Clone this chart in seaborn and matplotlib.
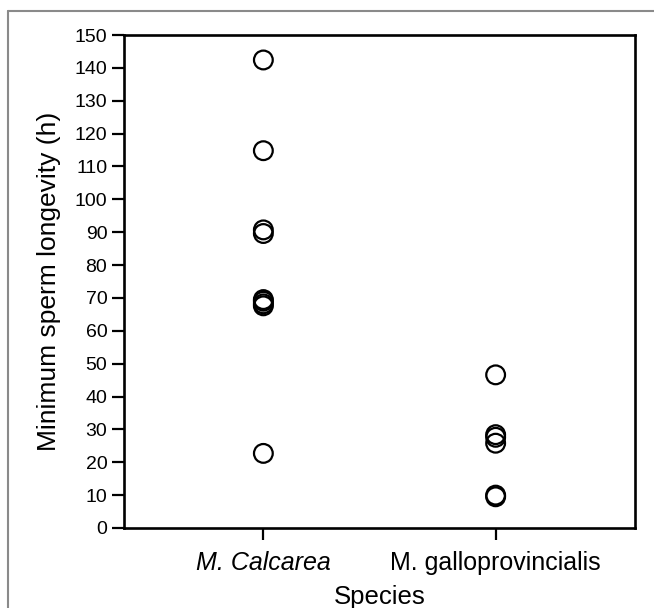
import matplotlib
matplotlib.use("Agg")
import matplotlib.pyplot as plt
from matplotlib.lines import Line2D
import seaborn as sns
import pandas as pd

species = ["M. Calcarea", "M. galloprovincialis"]
calcarea = [142.4, 114.8, 90.7, 89.6, 69.5, 69.0, 68.2, 67.6, 22.7]
gallo = [46.6, 28.4, 27.6, 25.8, 10.0, 9.5]
y_ticks = list(range(0, 151, 10))

df = pd.DataFrame({
    "Species": [species[0]] * len(calcarea) + [species[1]] * len(gallo),
    "Longevity": calcarea + gallo,
})

sns.set_theme(style="ticks")
plt.rcParams["font.family"] = ["Liberation Sans", "DejaVu Sans"]
plt.rcParams["text.color"] = "black"
plt.rcParams["axes.labelcolor"] = "black"
plt.rcParams["xtick.color"] = "black"
plt.rcParams["ytick.color"] = "black"

fig = plt.figure(figsize=(6.54, 6.08), dpi=100)
ax = fig.add_axes([124 / 654, 1 - 528 / 608, (635 - 124) / 654, (528 - 35) / 608])

sns.stripplot(data=df, x="Species", y="Longevity", order=species, jitter=False,
              color="black", edgecolor="black", linewidth=1.6, size=13.5,
              marker="o", ax=ax)
for coll in ax.collections:
    coll.set_facecolor("none")
    coll.set_edgecolor("black")

ax.set_xlim(-0.6, 1.6)
ax.set_ylim(0, 150)
ax.set_yticks(y_ticks)
ax.set_yticklabels([str(t) for t in y_ticks], fontsize=14)
for sp in ax.spines.values():
    sp.set_visible(True)
    sp.set_linewidth(1.9)
    sp.set_color("black")
ax.tick_params(axis="y", direction="out", length=8.5, width=1.6, pad=3.5,
               colors="black", labelcolor="black")
ax.tick_params(axis="x", direction="out", length=8.5, width=1.6, pad=8,
               colors="black", labelcolor="black", labelsize=18)
labels = ax.get_xticklabels()
labels[0].set_fontstyle("italic")
ax.set_xlabel("Species", fontsize=18.5, labelpad=7, color="black")
ax.set_ylabel("Minimum sperm longevity (h)", fontsize=19, labelpad=10, color="black")

# outer frame (partial, as in the reference)
fig.add_artist(Line2D([7.5 / 654, 7.5 / 654], [0, 1 - 10.5 / 608],
                      transform=fig.transFigure, color="#8a8a8a", lw=1.5))
fig.add_artist(Line2D([7.5 / 654, 1], [1 - 10.5 / 608, 1 - 10.5 / 608],
                      transform=fig.transFigure, color="#8a8a8a", lw=1.5))

fig.savefig("out.png", dpi=100, facecolor="white")
